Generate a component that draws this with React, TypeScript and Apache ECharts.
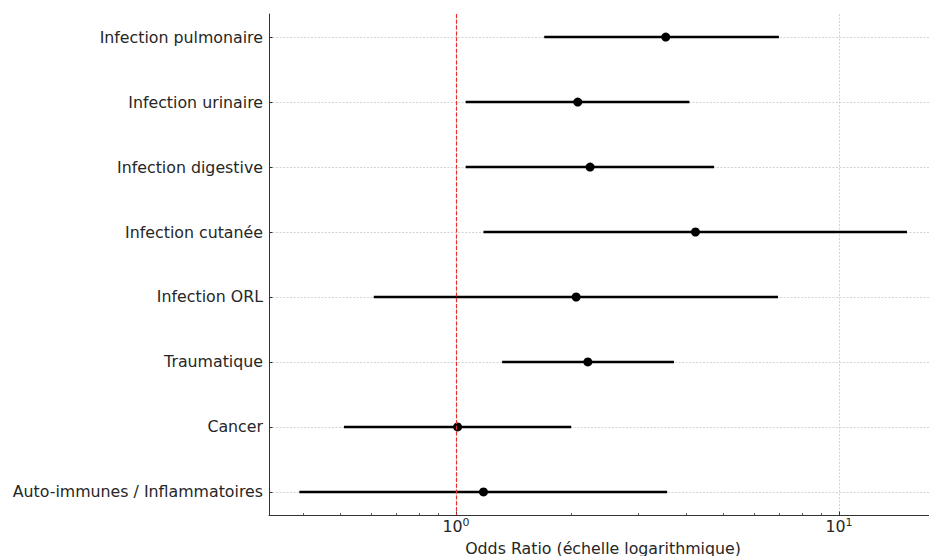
import React, { useEffect, useRef } from "react";
import * as echarts from "echarts";

const categories = [
  "Infection pulmonaire",
  "Infection urinaire",
  "Infection digestive",
  "Infection cutanée",
  "Infection ORL",
  "Traumatique",
  "Cancer",
  "Auto-immunes / Inflammatoires",
];
const oddsRatio = [3.53, 2.08, 2.24, 4.22, 2.06, 2.21, 1.01, 1.18];
const ciLow = [1.70, 1.06, 1.06, 1.18, 0.61, 1.32, 0.51, 0.39];
const ciHigh = [6.97, 4.07, 4.72, 15.05, 6.93, 3.71, 2.0, 3.56];
const majorTicks = [1, 10];
const minorTicks = [0.4, 0.5, 0.6, 0.7, 0.8, 0.9, 2, 3, 4, 5, 6, 7, 8, 9];
const yIndex = categories.map((_, i) => i);

export default function App() {
  const ref = useRef<HTMLDivElement>(null);
  useEffect(() => {
    if (!ref.current) return;
    const chart = echarts.init(ref.current, null, { renderer: "svg" });
    const font = "DejaVu Sans";
    const textColor = "#262626";
    const gridColor = "#c8c8c8";
    const fs = 15.8;
    const xMin = 0.325;
    const xMax = 18.03;
    chart.setOption({
      animation: false,
      backgroundColor: "#ffffff",
      textStyle: { fontFamily: font },
      grid: {
        left: 269,
        top: 14,
        height: 501,
        width: 668,
        containLabel: false,
        outerBoundsMode: "none",
      },
      xAxis: [
        {
          type: "log",
          logBase: 10,
          min: xMin,
          max: xMax,
          position: "bottom",
          name: "Odds Ratio (échelle logarithmique)",
          nameLocation: "middle",
          nameGap: 25,
          nameTextStyle: { fontSize: fs, color: textColor, fontFamily: font },
          axisLine: { show: true, onZero: false, lineStyle: { color: "#333333", width: 1 } },
          axisTick: { show: true, inside: true, length: 3.5, customValues: majorTicks, lineStyle: { color: "#333333" } },
          axisLabel: {
            show: true,
            customValues: majorTicks,
            margin: 2,
            formatter: (v: number) => `{b|10}{s|${Math.round(Math.log10(v))}}`,
            rich: {
              b: { fontSize: fs, color: textColor, fontFamily: font },
              s: { fontSize: 11, color: textColor, fontFamily: font, padding: [0, 0, 8, 0] },
            },
          },
          splitLine: { show: true, lineStyle: { color: gridColor, type: [2, 1.5], width: 0.8 } },
        },
        {
          type: "log",
          logBase: 10,
          min: xMin,
          max: xMax,
          position: "bottom",
          axisLine: { show: false, onZero: false },
          axisTick: { show: true, inside: true, length: 2, customValues: minorTicks, lineStyle: { color: "#333333", width: 0.8 } },
          axisLabel: { show: false },
          splitLine: { show: false },
        },
      ],
      yAxis: {
        type: "value",
        inverse: true,
        min: -0.355,
        max: 7.355,
        axisLine: { show: true, onZero: false, lineStyle: { color: "#333333", width: 1 } },
        axisTick: { show: true, inside: true, length: 3.5, customValues: yIndex, lineStyle: { color: "#333333" } },
        axisLabel: {
          show: true,
          customValues: yIndex,
          margin: 6,
          fontSize: fs,
          color: textColor,
          fontFamily: font,
          formatter: (v: number) => categories[Math.round(v)] ?? "",
        },
        splitLine: { show: true, lineStyle: { color: gridColor, type: [2, 1.5], width: 0.8 } },
      },
      series: [
        {
          type: "custom",
          xAxisIndex: 0,
          data: categories.map((_, i) => [ciLow[i], ciHigh[i], i]),
          renderItem: (params: any, api: any) => {
            const p1 = api.coord([api.value(0), api.value(2)]);
            const p2 = api.coord([api.value(1), api.value(2)]);
            return {
              type: "line",
              shape: { x1: p1[0], y1: p1[1], x2: p2[0], y2: p2[1] },
              style: { stroke: "#000000", lineWidth: 2.6 },
            };
          },
          z: 3,
        },
        {
          type: "scatter",
          xAxisIndex: 0,
          data: categories.map((_, i) => [oddsRatio[i], i]),
          symbol: "circle",
          symbolSize: 9,
          itemStyle: { color: "#000000", opacity: 1 },
          z: 4,
          markLine: {
            silent: true,
            symbol: "none",
            label: { show: false },
            lineStyle: { color: "#e8302e", type: [4, 1.8], width: 1.2, opacity: 1 },
            emphasis: { disabled: true },
            data: [{ xAxis: 1 }],
          },
        },
      ],
    });
    return () => chart.dispose();
  }, []);
  return (
    <div
      ref={ref}
      style={{ position: "fixed", left: 0, top: 0, width: 929, height: 556, background: "#fff" }}
    />
  );
}
